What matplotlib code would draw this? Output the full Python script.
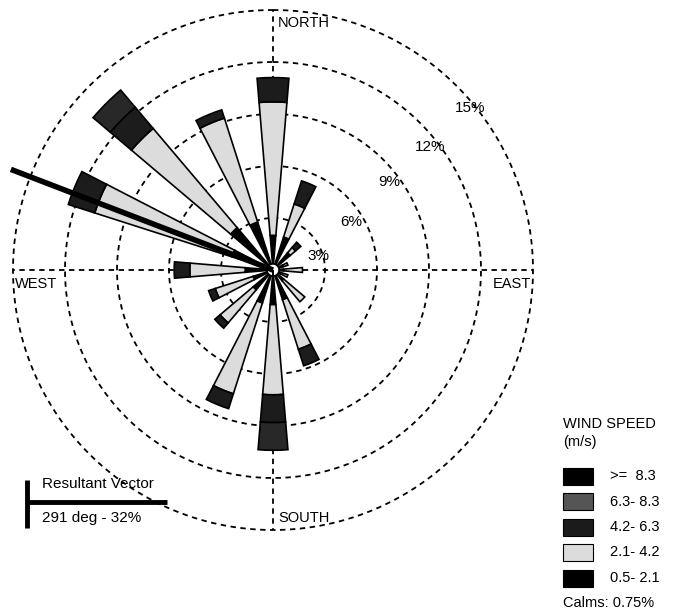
import numpy as np
import matplotlib
matplotlib.use("Agg")
import matplotlib.pyplot as plt
from matplotlib.patches import Rectangle
from matplotlib.lines import Line2D

plt.rcParams['font.family'] = ['Liberation Sans', 'DejaVu Sans']

# ---------------- data ----------------
directions = ['N', 'NNE', 'NE', 'ENE', 'E', 'ESE', 'SE', 'SSE',
              'S', 'SSW', 'SW', 'WSW', 'W', 'WNW', 'NW', 'NNW']
dir_deg = [0, 22.5, 45, 67.5, 90, 112.5, 135, 157.5,
           180, 202.5, 225, 247.5, 270, 292.5, 315, 337.5]
speed_labels = ['0.5- 2.1', '2.1- 4.2', '4.2- 6.3', '6.3- 8.3', '>=  8.3']
# frequency (%) per speed class, per direction
f_05_21 = [2.0, 2.0, 1.3, 0.6, 0.6, 0.5, 0.8, 1.8, 2.0, 2.0, 1.5, 1.2, 1.6, 2.5, 3.2, 2.9]
f_21_42 = [7.7, 2.0, 0.4, 0.3, 1.1, 0.4, 1.6, 3.0, 5.2, 5.5, 2.5, 2.3, 3.2, 8.3, 7.5, 6.3]
f_42_63 = [1.4, 1.4, 0.4, 0.0, 0.0, 0.0, 0.0, 1.0, 1.6, 0.9, 0.4, 0.4, 0.9, 1.6, 1.6, 0.5]
f_63_83 = [0.0, 0.0, 0.0, 0.0, 0.0, 0.0, 0.0, 0.0, 1.6, 0.0, 0.0, 0.0, 0.0, 0.0, 1.3, 0.0]
f_ge_83 = [0.0] * 16
rings = [3, 6, 9, 12, 15]
ring_labels = ['3%', '6%', '9%', '12%', '15%']
calms_pct = 0.75
resultant_deg = 291
resultant_pct = 32

# ---------------- style ----------------
class_colors = ['#000000', '#dcdcdc', '#1c1c1c', '#282828', '#000000']
legend_colors = ['#000000', '#dcdcdc', '#1c1c1c', '#555555', '#000000']
W, H = 673, 615

def fx(x):
    return x / W

def fy(y):
    return 1 - y / H

fig = plt.figure(figsize=(W / 100, H / 100), dpi=100)
ax = fig.add_axes([fx(13), 85 / H, 520 / W, 520 / H], projection='polar')
ax.set_theta_zero_location('N')
ax.set_theta_direction(-1)
ax.set_ylim(0, 15)
ax.set_axis_off()

dash = (0, (3, 2.5))
# dashed rings
t = np.linspace(0, 2 * np.pi, 721)
for r in rings:
    ax.plot(t, np.full_like(t, r), color='black', lw=1.3, ls=dash, zorder=1, clip_on=False)
# dashed cross lines
for a in [0, 90, 180, 270]:
    ax.plot([np.deg2rad(a)] * 2, [0, 15], color='black', lw=1.3, ls=dash, zorder=1,
            clip_on=False)

# stacked bars
theta = np.deg2rad(dir_deg)
width = np.deg2rad(9.5)
bottom = np.zeros(len(directions))
classes = [f_05_21, f_21_42, f_42_63, f_63_83, f_ge_83]
for vals, col in zip(classes, class_colors):
    vals = np.asarray(vals, dtype=float)
    m = vals > 0
    if m.any():
        ax.bar(theta[m], vals[m], width=width, bottom=bottom[m], color=col,
               edgecolor='black', linewidth=1.2, zorder=3)
    bottom += vals

# calm circle at centre
ax.bar(0, 0.35, width=2 * np.pi, bottom=0, color='white', edgecolor='black',
       linewidth=1.2, zorder=4)

# resultant vector
ax.plot([np.deg2rad(resultant_deg)] * 2, [0, 16.2], color='black', lw=4,
        solid_capstyle='butt', clip_on=False, zorder=5)

# ring labels
ring_label_pos = [(73, 2.72), (58.7, 5.3), (53, 8.4), (52, 11.5), (50.6, 14.7)]
for (a, r), lab in zip(ring_label_pos, ring_labels):
    ax.text(np.deg2rad(a), r, lab, ha='center', va='center', fontsize=11, zorder=6)

# compass labels
fs = 10.5
ax.annotate('NORTH', xy=(0, 15), xytext=(5, -13), textcoords='offset pixels',
            ha='left', va='center', fontsize=fs)
ax.annotate('SOUTH', xy=(np.pi, 15), xytext=(5, 12), textcoords='offset pixels',
            ha='left', va='center', fontsize=fs)
ax.annotate('WEST', xy=(1.5 * np.pi, 15), xytext=(2, -14), textcoords='offset pixels',
            ha='left', va='center', fontsize=fs)
ax.annotate('EAST', xy=(0.5 * np.pi, 15), xytext=(-2, -14), textcoords='offset pixels',
            ha='right', va='center', fontsize=fs)

# wind speed legend
lfs = 10.5
fig.text(fx(563), fy(424), 'WIND SPEED', ha='left', va='center', fontsize=lfs)
fig.text(fx(563), fy(442), '(m/s)', ha='left', va='center', fontsize=lfs)
for i, (lab, col) in enumerate(zip(speed_labels[::-1], legend_colors[::-1])):
    yc = 476 + i * 25.5
    fig.add_artist(Rectangle((fx(563), fy(yc + 8.5)), 30 / W, 17 / H,
                             transform=fig.transFigure, facecolor=col,
                             edgecolor='black', linewidth=0.8))
    fig.text(fx(610), fy(yc), lab, ha='left', va='center', fontsize=lfs)
fig.text(fx(563), fy(603), f'Calms: {calms_pct:.2f}%', ha='left', va='center', fontsize=lfs)

# resultant vector legend
fig.add_artist(Line2D([fx(27), fx(27)], [fy(480), fy(528)], transform=fig.transFigure,
                      color='black', lw=3.5, solid_capstyle='butt'))
fig.add_artist(Line2D([fx(27), fx(167)], [fy(502), fy(502)], transform=fig.transFigure,
                      color='black', lw=3.5, solid_capstyle='butt'))
fig.text(fx(42), fy(484), 'Resultant Vector', ha='left', va='center', fontsize=11)
fig.text(fx(42), fy(518), f'{resultant_deg} deg - {resultant_pct}%', ha='left',
         va='center', fontsize=11)

fig.savefig('out.png', dpi=100, facecolor='white')
